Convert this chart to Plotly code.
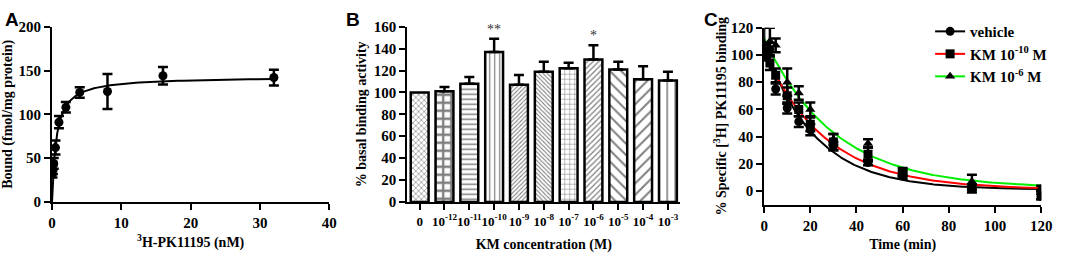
import numpy as np
import plotly.graph_objects as go

# ---------------- Panel A data ----------------
a_conc = [0.0625, 0.125, 0.25, 0.5, 1, 2, 4, 8, 16, 32]
a_bound = [32, 37, 44, 62, 91, 108, 125, 126, 144, 142]
a_err = [4, 5, 6, 8, 7, 6, 6, 20, 10, 9]
a_bmax = 143.0
a_kd = 0.62

# ---------------- Panel B data ----------------
b_labels = ["0", "10<sup>-12</sup>", "10<sup>-11</sup>", "10<sup>-10</sup>", "10<sup>-9</sup>",
            "10<sup>-8</sup>", "10<sup>-7</sup>", "10<sup>-6</sup>", "10<sup>-5</sup>",
            "10<sup>-4</sup>", "10<sup>-3</sup>"]
b_values = [100, 101, 108, 137, 107, 119, 122, 130, 121, 112, 111]
b_err = [0, 4, 6, 12, 9, 9, 5, 13, 7, 12, 8]
b_stars = ["", "", "", "**", "", "", "", "*", "", "", ""]

# ---------------- Panel C data ----------------
c_time = [0, 2.5, 5, 10, 15, 20, 30, 45, 60, 90, 120]
c_vehicle = [100, 104, 75, 61, 51, 45, 33, 21, 11, 3, -4]
c_vehicle_err = [4, 5, 4, 4, 4, 4, 3, 2, 2, 2, 2]
c_km10 = [102, 94, 85, 70, 60, 49, 36, 27, 14, 2, -3]
c_km10_err = [5, 5, 5, 6, 5, 5, 6, 5, 3, 3, 3]
c_km6 = [108, 110, 107, 80, 72, 60, 38, 35, 13, 7, 2]
c_km6_err = [12, 10, 5, 10, 5, 5, 4, 3, 2, 5, 2]
# fitted one-phase decay parameters (Y0, plateau, k)
c_fit = {"vehicle": (107, 1, 0.045), "km10": (102, 1, 0.037), "km6": (112, 2, 0.033)}

SERIF = "Liberation Serif"
SANS = "Liberation Sans"
BLACK = "black"

fig = go.Figure()

# ---------- Panel A ----------
xa = np.concatenate([[0], np.geomspace(0.01, 32, 200)])
fig.add_trace(go.Scatter(x=xa, y=a_bmax * xa / (a_kd + xa), mode="lines",
                         line=dict(color=BLACK, width=2), xaxis="x", yaxis="y",
                         showlegend=False, hoverinfo="skip"))
fig.add_trace(go.Scatter(x=a_conc, y=a_bound, mode="markers",
                         marker=dict(color=BLACK, size=9, symbol="circle"),
                         error_y=dict(type="data", array=a_err, color=BLACK, thickness=2.5, width=5),
                         xaxis="x", yaxis="y", showlegend=False))

# ---------- Panel B ----------
patterns = [
    dict(shape="x", size=4, solidity=0.3),
    dict(shape="+", size=8, solidity=0.5),
    dict(shape="-", size=5, solidity=0.3),
    dict(shape="|", size=5, solidity=0.25),
    dict(shape="/", size=3, solidity=0.35),
    dict(shape="\\", size=3, solidity=0.35),
    dict(shape="+", size=5, solidity=0.2),
    dict(shape="/", size=4, solidity=0.3),
    dict(shape="\\", size=8, solidity=0.25),
    dict(shape="/", size=8, solidity=0.25),
    dict(shape="|", size=8, solidity=0.2),
]
for i, lab in enumerate(b_labels):
    p = patterns[i]
    fig.add_trace(go.Bar(
        x=[lab], y=[b_values[i]], width=0.72,
        marker=dict(color="white", line=dict(color=BLACK, width=2.5),
                    pattern=dict(shape=p["shape"], size=p["size"], solidity=p["solidity"],
                                 fgcolor=BLACK, bgcolor="white", fillmode="overlay")),
        error_y=dict(type="data", array=[b_err[i]], arrayminus=[0], symmetric=False,
                     color=BLACK, thickness=2.5, width=5, visible=b_err[i] > 0),
        xaxis="x2", yaxis="y2", showlegend=False))

# ---------- Panel C ----------
tt = np.linspace(0, 120, 241)
series = [
    ("vehicle", c_vehicle, c_vehicle_err, "circle", BLACK, "vehicle"),
    ("KM 10<sup>-10</sup> M", c_km10, c_km10_err, "square", "#ff0000", "km10"),
    ("KM 10<sup>-6</sup> M", c_km6, c_km6_err, "triangle-up", "#00ee00", "km6"),
]
for name, vals, errs, sym, col, key in series:
    y0, plat, k = c_fit[key]
    fig.add_trace(go.Scatter(x=tt, y=(y0 - plat) * np.exp(-k * tt) + plat, mode="lines",
                             line=dict(color=col, width=2), xaxis="x3", yaxis="y3",
                             showlegend=False, hoverinfo="skip"))
for name, vals, errs, sym, col, key in series:
    fig.add_trace(go.Scatter(x=c_time, y=vals, mode="markers",
                             marker=dict(color=BLACK, size=9, symbol=sym),
                             error_y=dict(type="data", array=errs, color=BLACK, thickness=2.5, width=5),
                             xaxis="x3", yaxis="y3", showlegend=False))
    fig.add_trace(go.Scatter(x=[None], y=[None], mode="lines+markers", name=name,
                             line=dict(color=col, width=2),
                             marker=dict(color=BLACK, size=9, symbol=sym),
                             xaxis="x3", yaxis="y3", showlegend=True))

tick_b = dict(family=SERIF, size=15, color=BLACK, weight="bold")
title_b = dict(family=SERIF, size=14, color=BLACK, weight="bold")
axis_common = dict(showline=True, linecolor=BLACK, linewidth=2, ticks="outside",
                   tickcolor=BLACK, tickwidth=2, ticklen=6, showgrid=False, zeroline=False,
                   tickfont=tick_b, mirror=False)

ydom_ab = [46 / 253, 233 / 253]
fig.update_layout(
    width=1065, height=253,
    margin=dict(l=0, r=0, t=0, b=0),
    paper_bgcolor="white", plot_bgcolor="white",
    font=dict(family=SERIF, color=BLACK),
    barmode="overlay",
    xaxis=dict(domain=[48.7 / 1065, 330 / 1065], range=[0, 40], tickvals=[0, 10, 20, 30, 40],
               title=dict(text="<sup>3</sup>H-PK11195 (nM)", font=title_b, standoff=7),
               anchor="y", **axis_common),
    yaxis=dict(domain=ydom_ab, range=[0, 200], tickvals=[0, 50, 100, 150, 200],
               title=dict(text="Bound (fmol/mg protein)", font=title_b, standoff=4),
               anchor="x", **axis_common),
    xaxis2=dict(domain=[409 / 1065, 686 / 1065], range=[-0.5, 10.5], type="category", tickangle=0,
                title=dict(text="KM concentration (M)", font=title_b, standoff=12),
                anchor="y2", **axis_common),
    yaxis2=dict(domain=ydom_ab, range=[0, 160], tickvals=list(range(0, 161, 20)),
                title=dict(text="% basal binding activity", font=title_b, standoff=4),
                anchor="x2", **axis_common),
    xaxis3=dict(domain=[771 / 1065, 1052 / 1065], range=[0, 120], tickvals=list(range(0, 121, 20)),
                title=dict(text="Time (min)", font=title_b, standoff=7),
                anchor="y3", **axis_common),
    yaxis3=dict(domain=[43 / 253, 232 / 253], range=[-10, 120], tickvals=list(range(0, 121, 20)),
                title=dict(text="% Specific [<sup>3</sup>H] PK11195 binding", font=title_b, standoff=1),
                anchor="x3", **axis_common),
    legend=dict(x=0.882, y=0.97, xanchor="left", yanchor="top", bgcolor="rgba(0,0,0,0)",
                font=dict(family=SERIF, size=15, color=BLACK, weight="bold"), tracegroupgap=2),
)
fig.layout.xaxis2.tickfont = dict(family=SERIF, size=13, color=BLACK, weight="bold")

annotations = []
for txt, xp in [("A", 0), ("B", 346), ("C", 709)]:
    annotations.append(dict(text="<b>%s</b>" % txt, x=xp / 1065, y=1.0, xref="paper", yref="paper",
                            xanchor="left", yanchor="top", showarrow=False, borderpad=0,
                            font=dict(family=SANS, size=19, color=BLACK)))
for i, s in enumerate(b_stars):
    if s:
        annotations.append(dict(text=s, x=b_labels[i], y=b_values[i] + b_err[i], xref="x2", yref="y2",
                                yanchor="bottom", showarrow=False,
                                font=dict(family=SERIF, size=14, color="#333333")))
fig.update_layout(annotations=annotations)

fig.write_html("out.html", config={"displayModeBar": False},
               post_script="document.body.style.margin='0';document.body.style.overflow='hidden';")
